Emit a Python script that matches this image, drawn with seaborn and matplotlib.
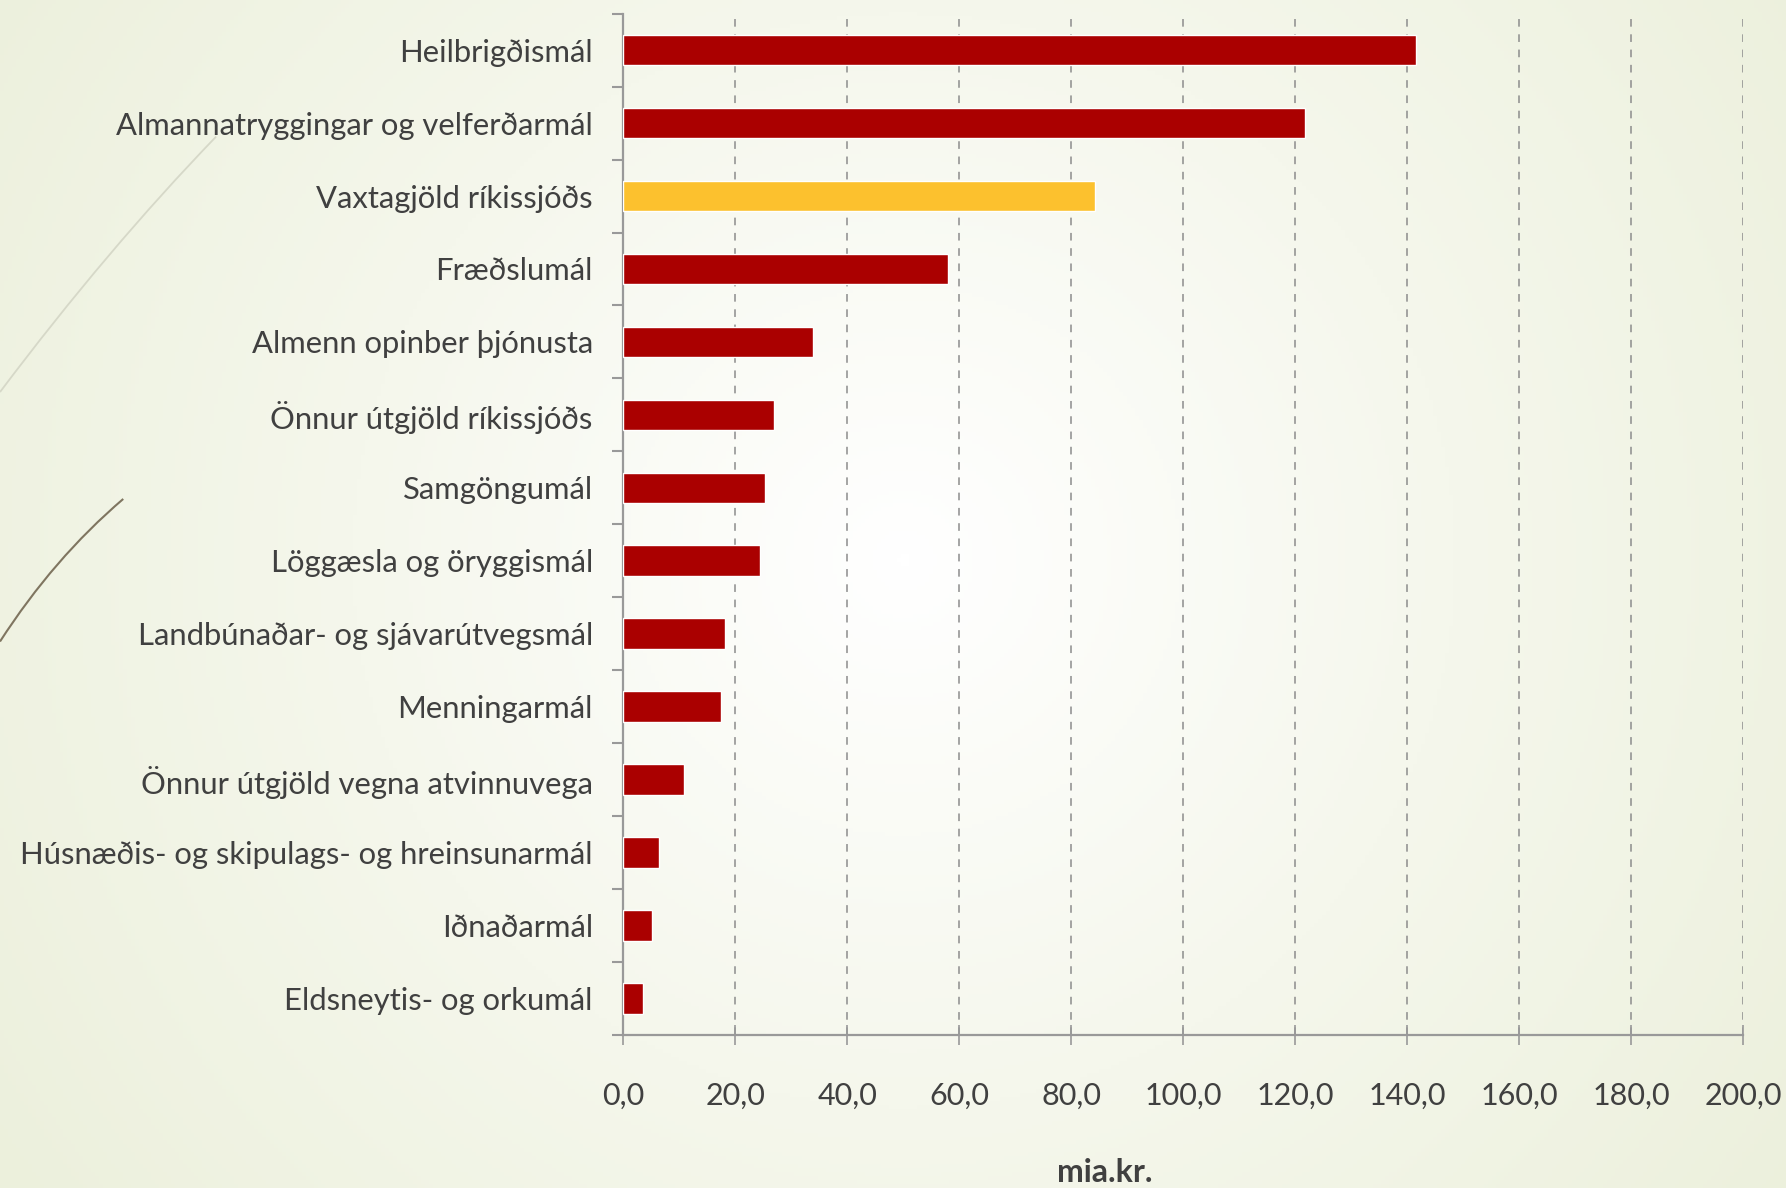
import numpy as np
import pandas as pd
import matplotlib
matplotlib.use("Agg")
import matplotlib.pyplot as plt
from matplotlib.path import Path
from matplotlib.patches import PathPatch
from matplotlib.colors import LinearSegmentedColormap
import seaborn as sns

categories = [
    "Heilbrigðismál",
    "Almannatryggingar og velferðarmál",
    "Vaxtagjöld ríkissjóðs",
    "Fræðslumál",
    "Almenn opinber þjónusta",
    "Önnur útgjöld ríkissjóðs",
    "Samgöngumál",
    "Löggæsla og öryggismál",
    "Landbúnaðar- og sjávarútvegsmál",
    "Menningarmál",
    "Önnur útgjöld vegna atvinnuvega",
    "Húsnæðis- og skipulags- og hreinsunarmál",
    "Iðnaðarmál",
    "Eldsneytis- og orkumál",
]
values = [141.5, 121.8, 84.2, 57.9, 33.8, 27.0, 25.3, 24.4, 18.2, 17.5, 10.8, 6.3, 5.1, 3.5]
highlight = "Vaxtagjöld ríkissjóðs"
x_ticks = [0, 20, 40, 60, 80, 100, 120, 140, 160, 180, 200]
x_label = "mia.kr."

RED = "#AA0000"
YELLOW = "#FCC12E"
TEXT = "#404040"
GRID = "#8C8C8C"

sns.set_theme(style="white")
plt.rcParams["font.family"] = ["Lato", "DejaVu Sans"]

fig = plt.figure(figsize=(17.86, 11.88), dpi=100)

# background radial gradient
bg = fig.add_axes([0, 0, 1, 1], zorder=-10)
bg.set_axis_off()
H, W = 300, 450
yy, xx = np.mgrid[0:H, 0:W]
cx, cy = 0.505 * W, 0.47 * H
r = np.sqrt(((xx - cx) / W) ** 2 + ((yy - cy) / H * 0.67) ** 2)
r = r / r.max()
cmap = LinearSegmentedColormap.from_list("bg", ["#FFFFFF", "#F5F7EC", "#ECF0DC"])
bg.imshow(r, cmap=cmap, extent=[0, 1, 0, 1], aspect="auto", origin="upper")
bg.set_xlim(0, 1)
bg.set_ylim(0, 1)
# decorative curves
for (p0, p1, p2, col, lw) in [
    ((0.0, 0.67), (0.06, 0.79), (0.121, 0.885), "#D6D8C8", 1.3),
    ((0.0, 0.46), (0.03, 0.53), (0.069, 0.58), "#7F7560", 1.5),
]:
    path = Path([p0, p1, p2], [Path.MOVETO, Path.CURVE3, Path.CURVE3])
    bg.add_patch(PathPatch(path, fill=False, edgecolor=col, lw=lw))

ax = fig.add_axes([0.349, 0.1288, 0.627, 0.8597])
ax.set_facecolor("none")

df = pd.DataFrame({"cat": categories, "val": values})
palette = {c: (YELLOW if c == highlight else RED) for c in categories}
sns.barplot(data=df, x="val", y="cat", hue="cat", palette=palette, legend=False,
            orient="h", width=0.42, ax=ax, saturation=1, zorder=3)

ax.set_xlim(0, 200)
ax.set_ylim(len(categories) - 0.5, -0.5)
ax.set_xticks(x_ticks)
ax.set_xticklabels([f"{t:.1f}".replace(".", ",") for t in x_ticks])
ax.xaxis.grid(True, color=GRID, linestyle=(0, (5, 5)), linewidth=1.1, zorder=0)
ax.yaxis.grid(False)

for s in ["top", "right"]:
    ax.spines[s].set_visible(False)
for s in ["left", "bottom"]:
    ax.spines[s].set_color("#999999")
    ax.spines[s].set_linewidth(1.6)

ax.set_yticks(np.arange(len(categories)))
ax.set_yticklabels(categories)
ax.set_yticks(np.arange(-0.5, len(categories), 1.0), minor=True)
ax.tick_params(axis="y", which="major", length=0, pad=22, labelsize=22.3, labelcolor=TEXT)
ax.tick_params(axis="y", which="minor", length=8, width=1.5, color="#999999", direction="out", left=True)
ax.tick_params(axis="x", which="major", length=14, width=1.2, color="#999999", direction="inout",
               pad=27, labelsize=22, labelcolor=TEXT, bottom=True)

ax.set_ylabel("")
ax.set_xlabel(x_label, fontsize=23, color=TEXT, fontweight="bold")
ax.xaxis.set_label_coords(0.43, -0.12)

fig.savefig("out.png", dpi=100)
